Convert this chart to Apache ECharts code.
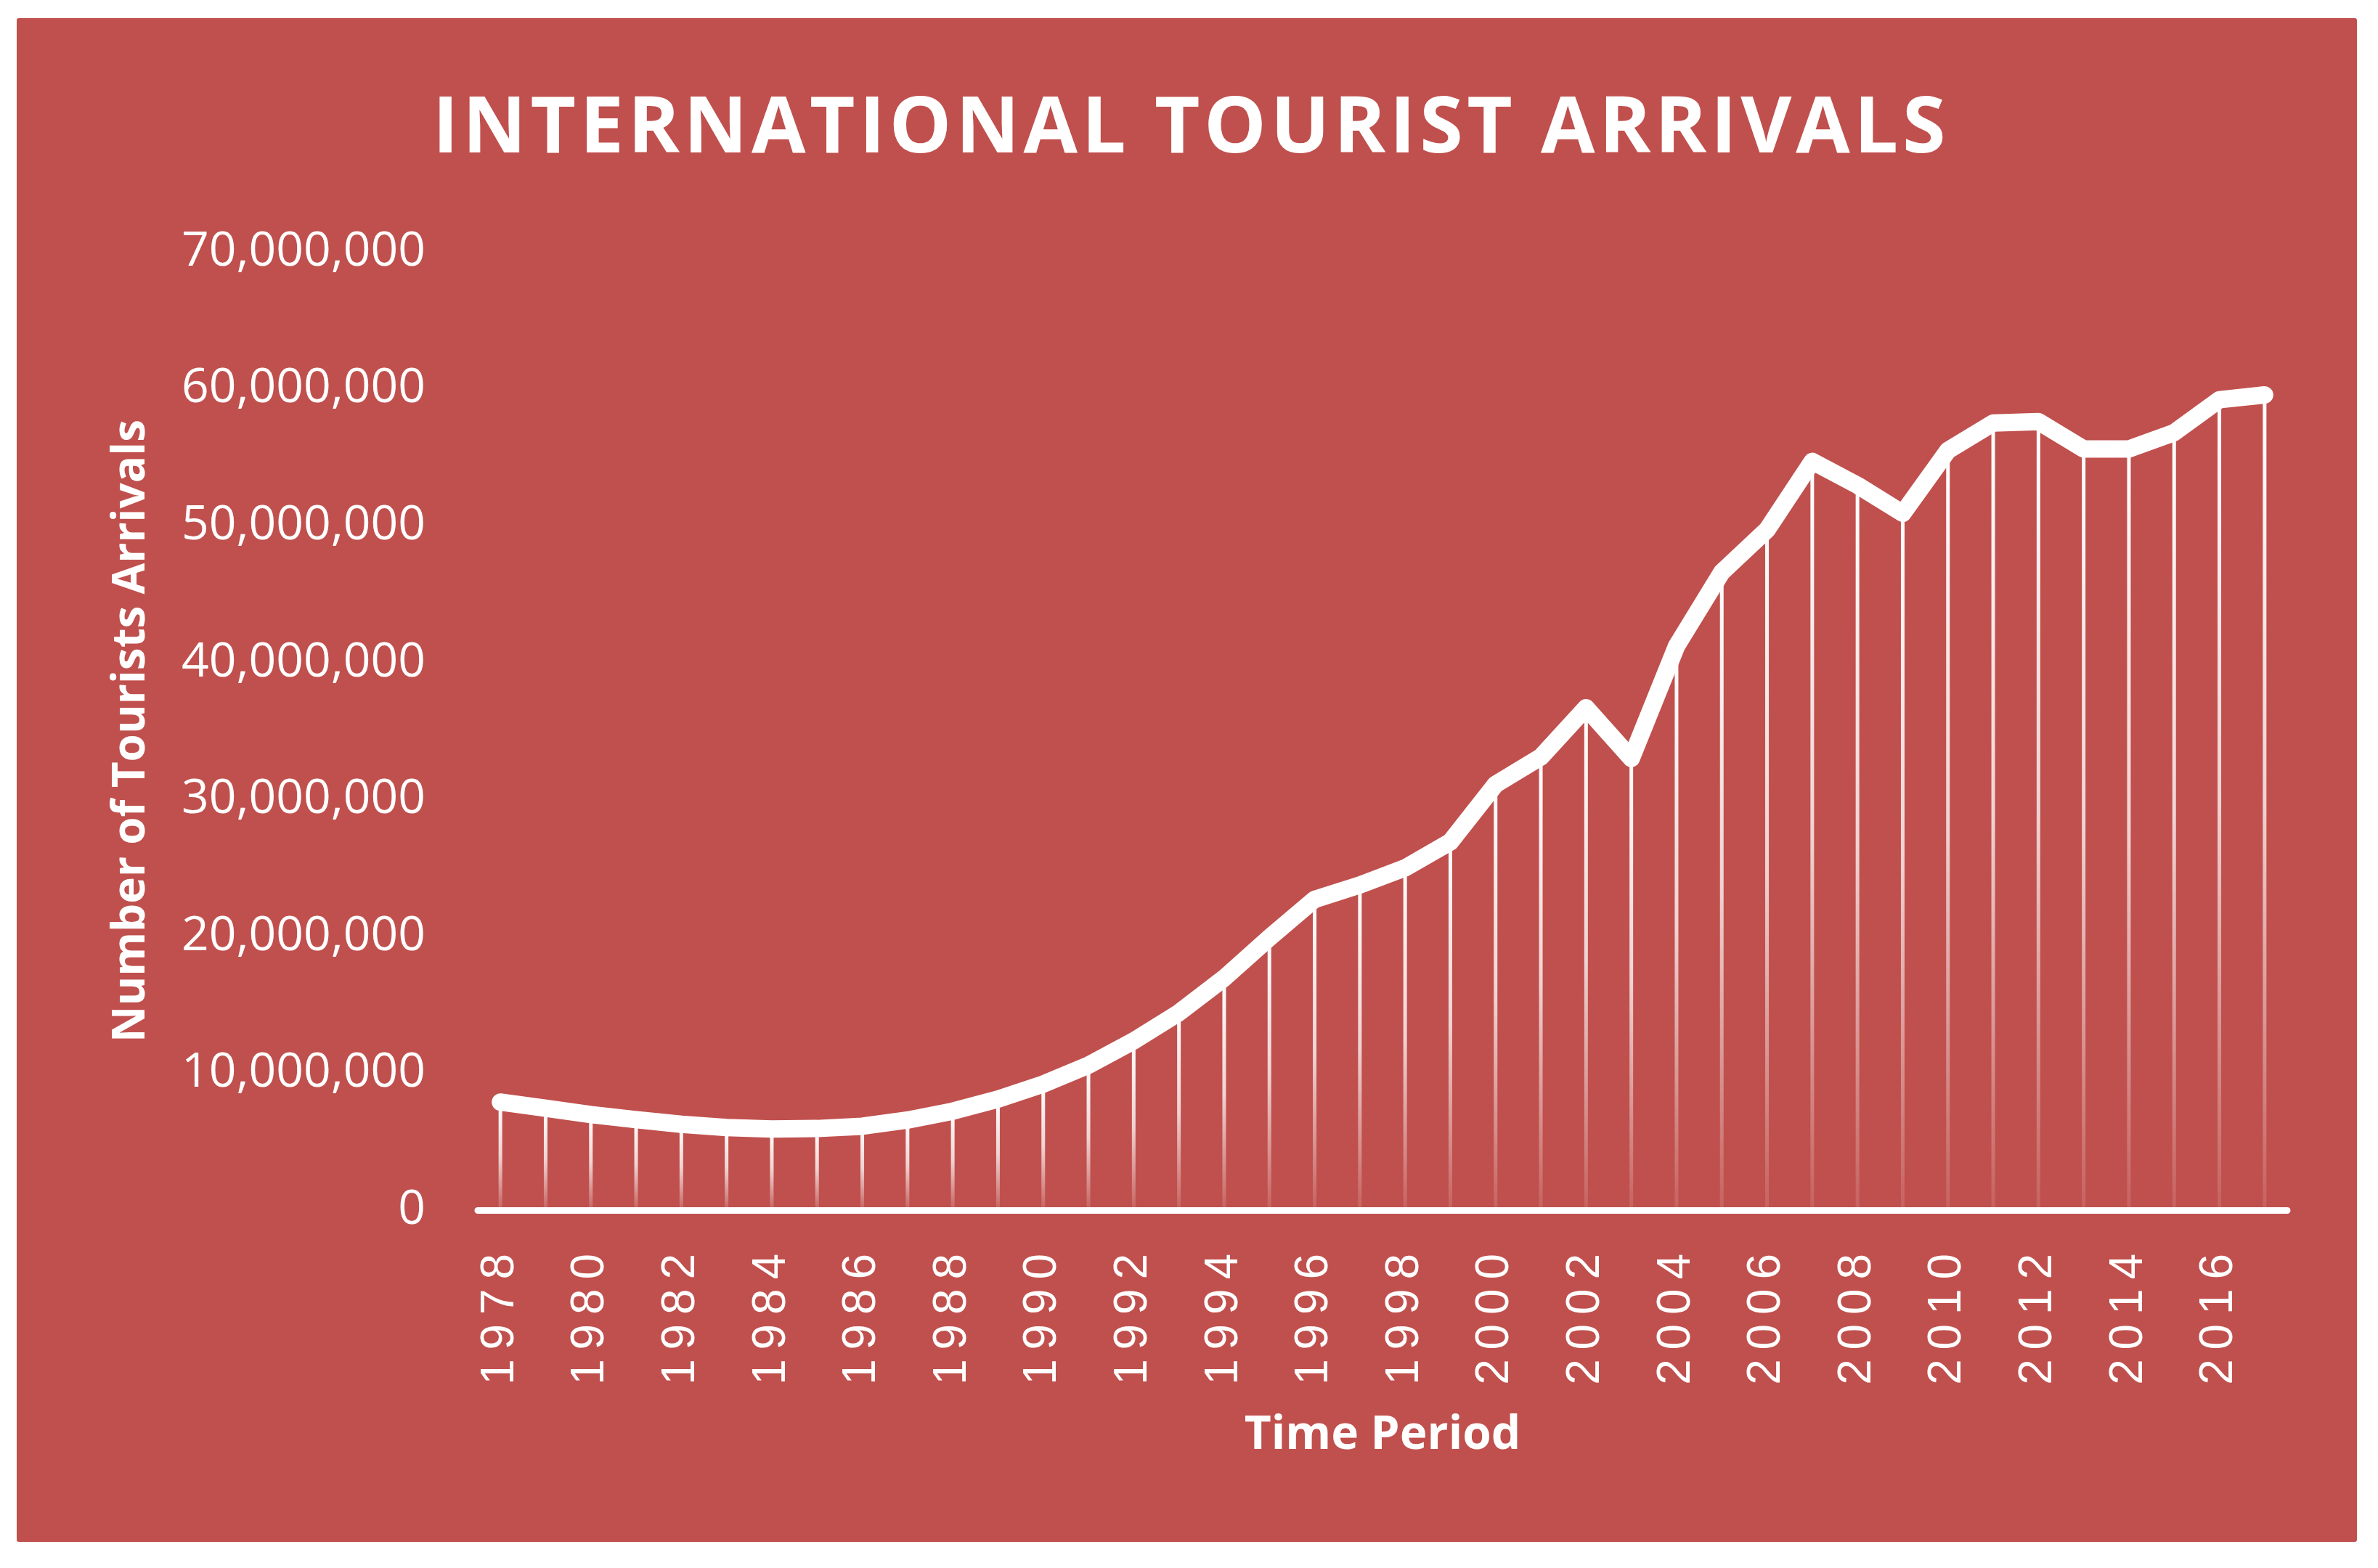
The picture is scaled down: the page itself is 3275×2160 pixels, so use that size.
<!DOCTYPE html>
<html>
<head>
<meta charset="utf-8">
<title>International Tourist Arrivals</title>
<script src="https://cdn.jsdelivr.net/npm/echarts@6/dist/echarts.min.js"></script>
<style>
  html, body { margin: 0; padding: 0; background: #ffffff; }
  #chart { width: 3275px; height: 2160px; }
</style>
</head>
<body>
<div id="chart"></div>
<script>
// Years on the category axis
var years = [
  "1978", "1979", "1980", "1981", "1982", "1983", "1984", "1985", "1986", "1987",
  "1988", "1989", "1990", "1991", "1992", "1993", "1994", "1995", "1996", "1997",
  "1998", "1999", "2000", "2001", "2002", "2003", "2004", "2005", "2006", "2007",
  "2008", "2009", "2010", "2011", "2012", "2013", "2014", "2015", "2016", "2017"
];

// International tourist arrivals
var arrivals = [
  7890000, 7440000, 6980000, 6610000, 6270000, 6030000, 5920000, 5960000, 6130000, 6580000,
  7230000, 8110000, 9210000, 10590000, 12360000, 14420000, 16950000, 19900000, 22700000, 23750000,
  25000000, 26900000, 31100000, 33100000, 36700000, 33000000, 41200000, 46600000, 49700000, 54700000,
  52950000, 50900000, 55500000, 57500000, 57600000, 55600000, 55600000, 56800000, 59200000, 59550000
];

var yTicks = [0, 10000000, 20000000, 30000000, 40000000, 50000000, 60000000, 70000000];

var titleText = "INTERNATIONAL TOURIST ARRIVALS";

// spread the letters a little, like the original title
function spaced(s, gap) {
  return s.split("").join(gap);
}

var chart = echarts.init(document.getElementById("chart"), null, { renderer: "canvas" });

var option = {
  backgroundColor: "#ffffff",
  animation: false,
  graphic: [{
    type: "rect",
    z: -10,
    silent: true,
    shape: { x: 23, y: 25, width: 3223, height: 2099, r: 3 },
    style: { fill: "#C0504D" }
  }],
  title: {
    text: spaced(titleText, "{g|\u200A}"),
    left: "center",
    top: 174,
    textVerticalAlign: "middle",
    textStyle: {
      color: "#ffffff",
      fontFamily: "Open Sans",
      fontWeight: "bold",
      fontSize: 108,
      rich: {
        g: { fontFamily: "Open Sans", fontSize: 56 }
      }
    }
  },
  grid: {
    left: 658,
    right: 125,
    top: 347,
    bottom: 493,
    containLabel: false
  },
  xAxis: {
    type: "category",
    data: years,
    boundaryGap: true,
    name: "Time Period",
    nameLocation: "middle",
    nameGap: 279,
    nameTextStyle: {
      color: "#ffffff",
      fontFamily: "Open Sans",
      fontWeight: "bold",
      fontSize: 64
    },
    axisLine: { lineStyle: { color: "#ffffff", width: 9 } },
    axisTick: { show: false },
    splitLine: { show: false },
    axisLabel: {
      interval: 1,
      rotate: 90,
      margin: 60,
      color: "#ffffff",
      fontFamily: "Liberation Sans",
      fontSize: 64,
      formatter: function (v) {
        return spaced(v, "\u2009");
      }
    }
  },
  yAxis: {
    type: "value",
    min: yTicks[0],
    max: yTicks[yTicks.length - 1],
    interval: yTicks[1] - yTicks[0],
    name: "Number of Tourists Arrivals",
    nameLocation: "middle",
    nameGap: 446,
    nameTextStyle: {
      color: "#ffffff",
      fontFamily: "Open Sans",
      fontWeight: "bold",
      fontSize: 62
    },
    axisLine: { show: false },
    axisTick: { show: false },
    splitLine: { show: false },
    axisLabel: {
      margin: 72,
      color: "#ffffff",
      fontFamily: "Open Sans",
      fontSize: 66,
      formatter: function (v) {
        return v.toLocaleString("en-US");
      }
    }
  },
  series: [
    {
      // drop lines from each point down to the axis
      name: "drop",
      type: "bar",
      data: arrivals,
      barWidth: 5,
      silent: true,
      itemStyle: {
        color: new echarts.graphic.LinearGradient(0, 0, 0, 1, [
          { offset: 0, color: "rgba(255,255,255,1)" },
          { offset: 0.5, color: "rgba(255,255,255,0.75)" },
          { offset: 1, color: "rgba(255,255,255,0.1)" }
        ])
      },
      z: 1
    },
    {
      name: "Arrivals",
      type: "line",
      data: arrivals,
      showSymbol: false,
      symbol: "none",
      smooth: false,
      lineStyle: { color: "#ffffff", width: 24, cap: "round", join: "round" },
      z: 3
    }
  ]
};

chart.setOption(option);
</script>
</body>
</html>
